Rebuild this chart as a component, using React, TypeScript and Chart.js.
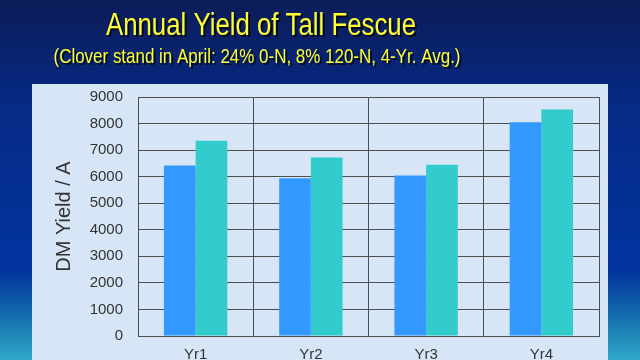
import React, { useEffect, useRef } from "react";
import { Chart, registerables } from "chart.js";

Chart.register(...registerables);

const categories = ["Yr1", "Yr2", "Yr3", "Yr4"];
const series0N = [6420, 5940, 6040, 8050];
const series120N = [7350, 6720, 6450, 8530];
const yMin = 0;
const yMax = 9000;
const yStep = 1000;
const titleText = "Annual Yield of Tall Fescue";
const subtitleText = "(Clover stand in April: 24% 0-N, 8% 120-N, 4-Yr. Avg.)";
const yAxisTitle = "DM Yield / A";

const FONT = "'Liberation Sans', Arial, Helvetica, sans-serif";

const slidePlugin = {
  id: "slideBackground",
  beforeDraw(chart: any) {
    const { ctx, width, height } = chart;
    ctx.save();
    const g = ctx.createLinearGradient(0, 0, 0, height);
    g.addColorStop(0, "#0c1c58");
    g.addColorStop(0.3, "#062a86");
    g.addColorStop(0.75, "#0234a0");
    g.addColorStop(0.85, "#1060a8");
    g.addColorStop(1, "#30a8c8");
    ctx.fillStyle = g;
    ctx.fillRect(0, 0, width, height);
    ctx.fillStyle = "#d7e6f7";
    ctx.fillRect(32, 84, 576, height - 84);

    const drawText = (text: string, size: number, cx: number, baseline: number, targetW: number) => {
      ctx.font = `${size}px ${FONT}`;
      const w = ctx.measureText(text).width;
      const sx = targetW / w;
      ctx.save();
      ctx.translate(cx, baseline);
      ctx.scale(sx, 1);
      ctx.textAlign = "center";
      ctx.textBaseline = "alphabetic";
      ctx.fillStyle = "rgba(0,0,0,0.7)";
      ctx.fillText(text, 2 / sx, 2);
      ctx.fillStyle = "#ffff33";
      ctx.fillText(text, 0, 0);
      ctx.restore();
    };
    drawText(titleText, 31, 261, 35, 310);
    drawText(subtitleText, 21, 257, 63, 407);
    ctx.restore();
  },
};

export default function App() {
  const ref = useRef<HTMLCanvasElement | null>(null);
  useEffect(() => {
    if (!ref.current) return;
    const gridColor = "#4e4e4e";
    const chart = new Chart(ref.current, {
      type: "bar",
      data: {
        labels: categories,
        datasets: [
          {
            label: "0-N",
            data: series0N,
            backgroundColor: "#3399ff",
            borderWidth: 0,
            categoryPercentage: 0.55,
            barPercentage: 1.0,
          },
          {
            label: "120-N",
            data: series120N,
            backgroundColor: "#33cccc",
            borderWidth: 0,
            categoryPercentage: 0.55,
            barPercentage: 1.0,
          },
        ],
      },
      options: {
        responsive: false,
        animation: false,
        layout: { padding: { left: 32, top: 97, right: 41, bottom: 0 } },
        plugins: {
          legend: { display: false },
          title: { display: false },
          tooltip: { enabled: false },
        },
        scales: {
          x: {
            grid: { color: gridColor, lineWidth: 1, drawTicks: false, offset: true },
            border: { color: gridColor, width: 1 },
            ticks: { color: "#333333", font: { family: FONT, size: 15 }, padding: 10 },
            afterFit: (s: any) => {
              s.height = 23;
            },
          },
          y: {
            min: yMin,
            max: yMax,
            ticks: {
              stepSize: yStep,
              color: "#333333",
              font: { family: FONT, size: 15 },
              padding: 15,
              callback: (v: any) => String(v),
            },
            grid: { color: gridColor, lineWidth: 1, drawTicks: false },
            border: { color: gridColor, width: 1 },
            title: {
              display: true,
              text: yAxisTitle,
              color: "#333333",
              font: { family: FONT, size: 20 },
              padding: { top: 20, bottom: 0 },
            },
            afterFit: (s: any) => {
              s.width = 106;
            },
          },
        },
      },
      plugins: [slidePlugin],
    } as any);
    return () => chart.destroy();
  }, []);
  return (
    <div style={{ position: "absolute", left: 0, top: 0, width: 640, height: 360 }}>
      <canvas ref={ref} width={640} height={360} style={{ display: "block" }} />
    </div>
  );
}
